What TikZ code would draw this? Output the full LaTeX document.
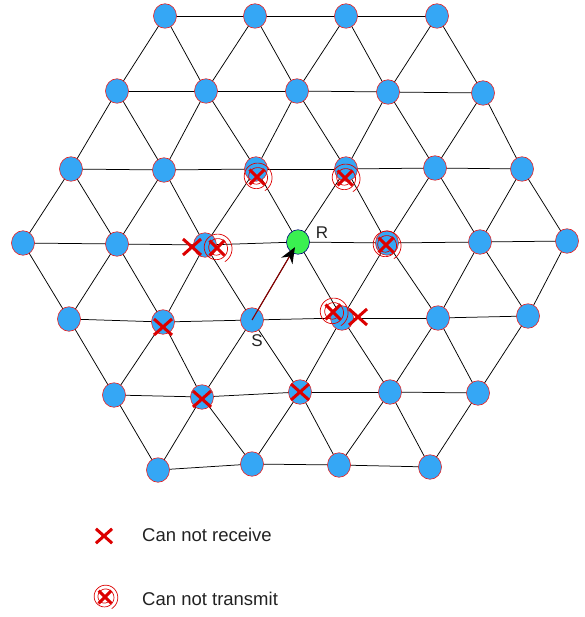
\documentclass[tikz,border=0pt]{standalone}
\usepackage{fontspec}
\setmainfont{Liberation Sans}
\usetikzlibrary{shapes.geometric,arrows.meta,backgrounds}

\definecolor{nodeblue}{RGB}{53,167,245}
\definecolor{nodegreen}{RGB}{58,240,80}
\definecolor{markred}{RGB}{220,0,0}
\definecolor{rimred}{RGB}{235,30,30}
\definecolor{arrowred}{RGB}{139,0,0}
\definecolor{txtgray}{RGB}{34,34,34}

\tikzset{
  sensor/.style={draw=rimred,line width=0.6pt,fill=nodeblue,ellipse,
    minimum width=23pt,minimum height=24.5pt,inner sep=0pt},
  relay/.style={sensor,draw=blue!50!black,fill=nodegreen},
  link/.style={black,line width=0.75pt},
  lbl/.style={txtgray,inner sep=0pt,font=\fontsize{17}{20}\selectfont},
  legendtext/.style={txtgray,inner sep=0pt,anchor=west,font=\fontsize{18.5}{22}\selectfont},
  norecv/.pic={\draw[markred,line width=3pt] (-9,-8) -- (9,8) (-9,8) -- (9,-8);},
  notrans/.pic={
    \draw[markred,line width=0.7pt] plot[domain=60:780,samples=140,smooth]
      ({(6+\x/80)*cos(\x)},{(6+\x/80)*sin(\x)});
    \draw[markred,line width=3pt] (-7.5,-7.5) -- (7.5,7.5) (-7.5,7.5) -- (7.5,-7.5);}
}

\begin{document}
\begin{tikzpicture}[x=1pt,y=-1pt]
\useasboundingbox (0,0) rectangle (584,617);

% the hexagon, row by row
\foreach \x/\y [count=\k from 0] in {165/16,255/16,346/16,437/16}
  \node [sensor] (n0\k) at (\x,\y) {};
\foreach \x/\y [count=\k from 0] in {117/91,206/91,297/91,388/92,483/93}
  \node [sensor] (n1\k) at (\x,\y) {};
\foreach \x/\y [count=\k from 0] in {71/169,164/170,256/169,346/169,435/168,522/169}
  \node [sensor] (n2\k) at (\x,\y) {};
\foreach \x/\y/\s [count=\k from 0] in {23/243/sensor,117/244/sensor,205/245/sensor,
    298/242/relay,387/243/sensor,480/242/sensor,567/241/sensor}
  \node [\s] (n3\k) at (\x,\y) {};
\foreach \x/\y [count=\k from 0] in {69/319,163/322,252/320,342/318,438/318,528/316}
  \node [sensor] (n4\k) at (\x,\y) {};
\foreach \x/\y [count=\k from 0] in {114/395,202/397,300/392,390/392,478/393}
  \node [sensor] (n5\k) at (\x,\y) {};
\foreach \x/\y [count=\k from 0] in {158/470,252/464,339/465,430/467}
  \node [sensor] (n6\k) at (\x,\y) {};

\begin{scope}[on background layer]
% horizontal links
\foreach \r/\m in {0/2,1/3,2/4,3/5,4/4,5/3,6/2}
  \foreach \k in {0,...,\m} {
    \pgfmathtruncatemacro\j{\k+1}
    \draw [link] (n\r\k.center) -- (n\r\j.center);
  }
% upper half
\foreach \r/\s/\m in {0/1/3,1/2/4,2/3/5}
  \foreach \k in {0,...,\m} {
    \pgfmathtruncatemacro\j{\k+1}
    \draw [link] (n\s\k.center) -- (n\r\k.center) -- (n\s\j.center);
  }
% lower half
\foreach \r/\s/\m in {4/3/5,5/4/4,6/5/3}
  \foreach \k in {0,...,\m} {
    \pgfmathtruncatemacro\j{\k+1}
    \draw [link] (n\s\k.center) -- (n\r\k.center) -- (n\s\j.center);
  }
\end{scope}

\draw [arrowred,line width=1.1pt,-{Stealth[length=16pt,width=13pt,black]},shorten >=6pt]
  (n42.center) -- (n33.center);
\node [lbl] (lblR) at (322,233) {R};
\node [lbl] (lblS) at (257,341) {S};

% can not receive
\pic at (192,247) {norecv};
\pic at (358,317) {norecv};
\pic at (163,327) {norecv};
\pic at (202,399) {norecv};
\pic at (300,392) {norecv};
% can not transmit
\pic at (257,177) {notrans};
\pic at (345,178) {notrans};
\pic at (217,248) {notrans};
\pic at (386,245) {notrans};
\pic at (333,312) {notrans};

% legend
\pic [scale=0.9] at (104,536) {norecv};
\node [legendtext] (lgdrecv) at (142,535) {Can not receive};
\pic [scale=0.85] at (105,597) {notrans};
\node [legendtext] (lgdtrans) at (142,599) {Can not transmit};
\end{tikzpicture}
\end{document}
